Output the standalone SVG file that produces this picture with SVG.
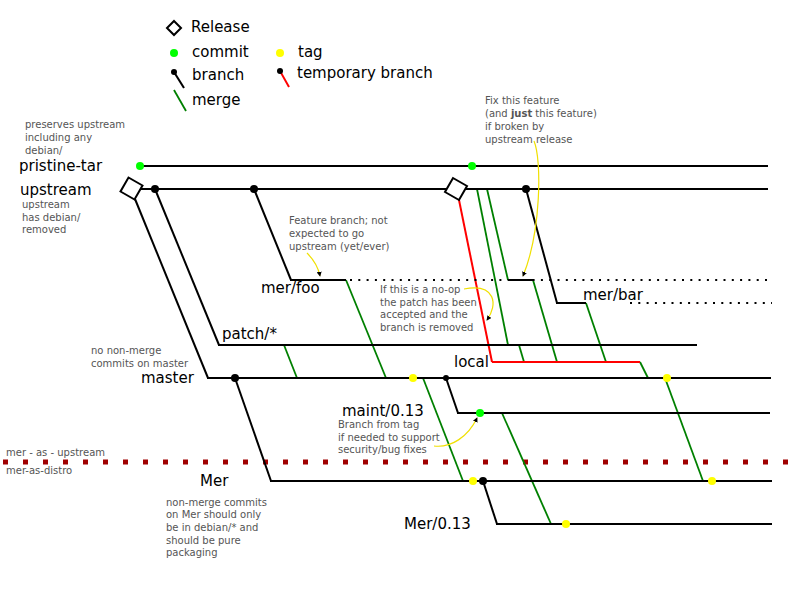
<svg xmlns="http://www.w3.org/2000/svg" width="800" height="600" viewBox="0 0 800 600">
<defs>
<style>
.lbl{font-family:"DejaVu Sans","Liberation Sans",sans-serif;font-size:15px;fill:#000}
.note{font-family:"DejaVu Sans","Liberation Sans",sans-serif;font-size:10px;fill:#555}
.br{stroke:#000;stroke-width:2;fill:none}
.mg{stroke:#008000;stroke-width:1.8;fill:none}
.tmp{stroke:#ff0000;stroke-width:2;fill:none}
.dot{stroke:#000;stroke-width:2;stroke-dasharray:2 6.3;fill:none}
.ya{stroke:#f0e000;stroke-width:1.2;fill:none;marker-end:url(#ah)}
.rel{fill:#fff;stroke:#000;stroke-width:2}
.cm{fill:#00ff00}
.tg{fill:#ffff00}
.bd{fill:#000}
</style>
<marker id="ah" viewBox="0 0 6 6" refX="5" refY="3" markerWidth="5" markerHeight="5" orient="auto" markerUnits="userSpaceOnUse">
<path d="M0,0 L6,3 L0,6 z" fill="#000"/>
</marker>
</defs>
<rect width="800" height="600" fill="#fff"/>

<g id="legend">
<polygon class="rel" points="174,21 181,28 174,35 167,28" stroke-width="1.5"/>
<text class="lbl" x="191" y="32">Release</text>
<circle class="cm" cx="174" cy="53" r="4"/>
<text class="lbl" x="192" y="57">commit</text>
<circle class="tg" cx="280" cy="53" r="4"/>
<text class="lbl" x="298" y="57">tag</text>
<line class="br" x1="174" y1="72" x2="184" y2="88" stroke-width="1.5"/>
<circle class="bd" cx="174" cy="72" r="3"/>
<text class="lbl" x="192" y="80">branch</text>
<line class="tmp" x1="280" y1="71" x2="289" y2="87" stroke-width="1.5"/>
<circle class="bd" cx="280" cy="71" r="3"/>
<text class="lbl" x="297" y="78">temporary branch</text>
<line class="mg" x1="174" y1="90" x2="186" y2="111"/>
<text class="lbl" x="192" y="105">merge</text>
</g>

<g id="divider">
<line x1="3" y1="462" x2="800" y2="462" stroke="#a00000" stroke-width="5" stroke-dasharray="5 15"/>
<text class="note" x="6" y="456">mer - as - upstream</text>
<text class="note" x="6" y="474">mer-as-distro</text>
</g>

<g id="connectors">
<!-- branch-offs -->
<line class="br" x1="135" y1="199" x2="208" y2="378"/>
<line class="br" x1="155" y1="189" x2="219" y2="345"/>
<line class="br" x1="254" y1="189" x2="291" y2="280"/>
<line class="br" x1="526" y1="189" x2="557" y2="303"/>
<line class="br" x1="235" y1="378" x2="271" y2="481"/>
<line class="br" x1="446" y1="378" x2="458" y2="413"/>
<line class="br" x1="483" y1="481" x2="497" y2="524"/>
<line class="tmp" x1="459" y1="200" x2="492" y2="362"/>
<!-- merges -->
<line class="mg" x1="477" y1="189" x2="508" y2="345"/>
<line class="mg" x1="487" y1="189" x2="508" y2="280"/>
<line class="mg" x1="533" y1="280" x2="557" y2="362"/>
<line class="mg" x1="519" y1="345" x2="524" y2="362"/>
<line class="mg" x1="586" y1="303" x2="606" y2="362"/>
<line class="mg" x1="640" y1="362" x2="648" y2="378"/>
<line class="mg" x1="346" y1="280" x2="386" y2="378"/>
<line class="mg" x1="284" y1="345" x2="297" y2="378"/>
<line class="mg" x1="423" y1="378" x2="463" y2="481"/>
<line class="mg" x1="502" y1="413" x2="551" y2="524"/>
<line class="mg" x1="665" y1="378" x2="703" y2="481"/>
</g>

<g id="pristine-tar">
<line class="br" x1="140" y1="166" x2="768" y2="166"/>
<circle class="cm" cx="140" cy="166" r="4"/>
<circle class="cm" cx="472" cy="166" r="4"/>
<text class="lbl" x="19" y="171">pristine-tar</text>
<text class="note"><tspan x="25" y="128">preserves upstream</tspan><tspan x="25" y="141">including any</tspan><tspan x="25" y="154">debian/</tspan></text>
</g>

<g id="upstream">
<line class="br" x1="138" y1="189" x2="768" y2="189"/>
<polygon class="rel" points="128.5,177.5 142.5,185.5 134.5,199.5 120.5,191.5"/>
<polygon class="rel" points="453,178 467,186 459,200 445,192"/>
<circle class="bd" cx="155" cy="189" r="4"/>
<circle class="bd" cx="254" cy="189" r="4"/>
<circle class="bd" cx="526" cy="189" r="4"/>
<text class="lbl" x="20" y="195">upstream</text>
<text class="note"><tspan x="22" y="208">upstream</tspan><tspan x="22" y="221">has debian/</tspan><tspan x="22" y="233">removed</tspan></text>
</g>

<g id="mer-foo">
<line class="br" x1="290" y1="280" x2="346" y2="280"/>
<line class="dot" x1="350" y1="280" x2="772" y2="280"/>
<line class="br" x1="508" y1="280" x2="533" y2="280"/>
<text class="lbl" x="261" y="293">mer/foo</text>
<text class="note"><tspan x="289" y="224">Feature branch; not</tspan><tspan x="289" y="237">expected to go</tspan><tspan x="289" y="250">upstream (yet/ever)</tspan></text>
<path class="ya" d="M307,253 C313,259 318,266 320,276"/>
<text class="note"><tspan x="380" y="293">If this is a no-op</tspan><tspan x="380" y="306">the patch has been</tspan><tspan x="380" y="318">accepted and the</tspan><tspan x="380" y="331">branch is removed</tspan></text>
<path class="ya" d="M464,289 C496,283 498,305 487,320"/>
</g>

<g id="mer-bar">
<line class="br" x1="556" y1="303" x2="586" y2="303"/>
<line class="dot" x1="630" y1="303" x2="772" y2="303"/>
<text class="lbl" x="583" y="300">mer/bar</text>
<text class="note"><tspan x="485" y="104">Fix this feature</tspan><tspan x="485" y="117">(and <tspan font-weight="bold">just</tspan> this feature)</tspan><tspan x="485" y="130">if broken by</tspan><tspan x="485" y="143">upstream release</tspan></text>
<path class="ya" d="M534,141 C542,160 541,232 523,276"/>
</g>

<g id="patch">
<line class="br" x1="218" y1="345" x2="697" y2="345"/>
<text class="lbl" x="222" y="339">patch/*</text>
</g>

<g id="local">
<polyline class="tmp" points="492,362 640,362"/>
<text class="lbl" x="454" y="367">local</text>
</g>

<g id="master">
<line class="br" x1="207" y1="378" x2="771" y2="378"/>
<circle class="bd" cx="235" cy="378" r="4"/>
<circle class="tg" cx="413" cy="378" r="4"/>
<circle class="bd" cx="446" cy="378" r="3"/>
<circle class="tg" cx="667" cy="378" r="4"/>
<text class="lbl" x="141" y="383">master</text>
<text class="note"><tspan x="91" y="354">no non-merge</tspan><tspan x="91" y="367">commits on master</tspan></text>
</g>

<g id="maint">
<line class="br" x1="457" y1="413" x2="770" y2="413"/>
<circle class="cm" cx="480" cy="413" r="4"/>
<text class="lbl" x="342" y="416">maint/0.13</text>
<text class="note"><tspan x="338" y="428">Branch from tag</tspan><tspan x="338" y="441">if needed to support</tspan><tspan x="338" y="453">security/bug fixes</tspan></text>
<path class="ya" d="M434,446 C451,448 468,437 477,418"/>
</g>

<g id="mer">
<line class="br" x1="270" y1="481" x2="772" y2="481"/>
<circle class="tg" cx="473" cy="481" r="4"/>
<circle class="bd" cx="483" cy="481" r="4"/>
<circle class="tg" cx="712" cy="481" r="4"/>
<text class="lbl" x="200" y="486">Mer</text>
<text class="note"><tspan x="166" y="506">non-merge commits</tspan><tspan x="166" y="518">on Mer should only</tspan><tspan x="166" y="531">be in debian/* and</tspan><tspan x="166" y="544">should be pure</tspan><tspan x="166" y="556">packaging</tspan></text>
</g>

<g id="mer-0.13">
<line class="br" x1="496" y1="524" x2="772" y2="524"/>
<circle class="tg" cx="566" cy="524" r="4"/>
<text class="lbl" x="404" y="529">Mer/0.13</text>
</g>
</svg>
